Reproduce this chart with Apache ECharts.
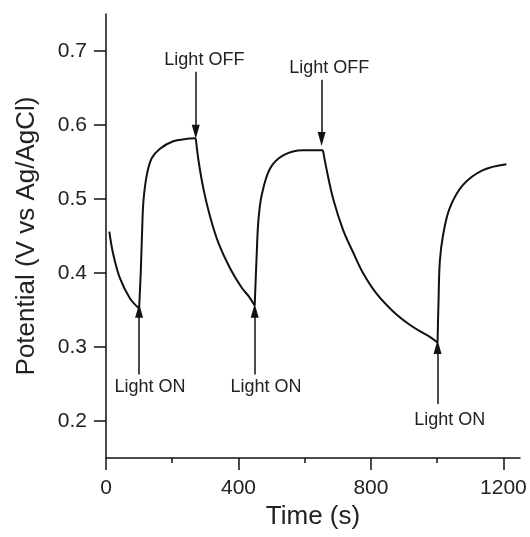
<!DOCTYPE html>
<html>
<head>
<meta charset="utf-8">
<script src="https://cdn.jsdelivr.net/npm/echarts@6/dist/echarts.min.js"></script>
<style>
  html, body { margin: 0; padding: 0; background: #fff; }
  #chart { width: 530px; height: 537px; }
</style>
</head>
<body>
<div id="chart"></div>
<script>
// time (s) and potential (V vs Ag/AgCl)
const timeS = [10, 22, 42, 72, 100, 105, 109, 113, 123, 138, 163, 203, 240, 271,
  280, 295, 315, 340, 375, 410, 430, 449, 455, 460, 470, 495, 535, 595, 655,
  666, 686, 716, 746, 776, 817, 867, 917, 957, 980, 1001, 1004, 1008, 1018, 1038, 1078, 1138, 1209]
const potential = [0.456, 0.425, 0.393, 0.366, 0.352, 0.402, 0.456, 0.497, 0.532, 0.555, 0.568, 0.578, 0.581, 0.582,
  0.550, 0.512, 0.475, 0.440, 0.406, 0.380, 0.369, 0.356, 0.425, 0.470, 0.505, 0.541, 0.559, 0.566, 0.566,
  0.540, 0.500, 0.458, 0.428, 0.400, 0.372, 0.348, 0.330, 0.319, 0.313, 0.306, 0.362, 0.416, 0.452, 0.488, 0.519, 0.539, 0.547]
// indices where light is switched (sharp corners in the trace)
const switchIdx = [4, 13, 21, 28, 39]

const yTicks = [0.2, 0.3, 0.4, 0.5, 0.6, 0.7]
const xTicks = [0, 400, 800, 1200]
const xMinorTicks = [200, 600, 1000]

// arrows: [time, tail potential, tip potential]
const arrows = [
  [271, 0.672, 0.591],
  [651, 0.661, 0.581],
  [100, 0.263, 0.349],
  [449, 0.263, 0.349],
  [1001, 0.223, 0.300]
]
// annotation texts: [label, time, potential]
const notes = [
  ['Light OFF', 297, 0.688],
  ['Light OFF', 674, 0.677],
  ['Light ON', 133, 0.246],
  ['Light ON', 483, 0.246],
  ['Light ON', 1038, 0.201]
]

const INK = '#111'
const TEXT = '#222'
const FONT = '"Liberation Sans", Arial, sans-serif'

const points = timeS.map((t, i) => [t, potential[i]])
const cuts = [0, ...switchIdx, points.length - 1]

// one smoothed piece per light period, so the switch points stay sharp
const pieces = []
for (let k = 0; k < cuts.length - 1; k++) {
  pieces.push({
    type: 'line',
    data: points.slice(cuts[k], cuts[k + 1] + 1),
    showSymbol: false,
    smooth: 0.35,
    lineStyle: { color: INK, width: 2 },
    silent: true
  })
}

pieces[0].markLine = {
  silent: true,
  symbol: ['none', 'triangle'],
  symbolSize: [8, 14],
  lineStyle: { color: INK, width: 1.5, type: 'solid' },
  label: { show: false },
  data: arrows.map((a) => [{ coord: [a[0], a[1]] }, { coord: [a[0], a[2]] }])
}
pieces[0].markPoint = {
  silent: true,
  symbol: 'circle',
  symbolSize: 0,
  label: {
    show: true,
    position: 'inside',
    formatter: '{b}',
    color: TEXT,
    fontSize: 18,
    fontFamily: FONT
  },
  data: notes.map((n) => ({ name: n[0], coord: [n[1], n[2]] }))
}

const chart = echarts.init(document.getElementById('chart'))

chart.setOption({
  animation: false,
  backgroundColor: '#fff',
  grid: { left: 106, right: 10, top: 14, bottom: 79 },
  xAxis: [
    {
      type: 'value',
      min: 0,
      max: 1250,
      name: 'Time (s)',
      nameLocation: 'middle',
      nameGap: 37,
      nameTextStyle: { color: TEXT, fontSize: 26, fontFamily: FONT },
      axisLine: { lineStyle: { color: INK, width: 1.5 } },
      axisTick: { customValues: xTicks, length: 12, lineStyle: { color: INK, width: 1.5 } },
      axisLabel: {
        customValues: xTicks,
        margin: 20,
        color: TEXT,
        fontSize: 21,
        fontFamily: FONT,
        formatter: (v) => String(v)
      },
      splitLine: { show: false }
    },
    {
      type: 'value',
      min: 0,
      max: 1250,
      position: 'bottom',
      axisLine: { show: false },
      axisTick: { customValues: xMinorTicks, length: 5, lineStyle: { color: INK, width: 1.5 } },
      axisLabel: { show: false },
      splitLine: { show: false }
    }
  ],
  yAxis: {
    type: 'value',
    min: 0.15,
    max: 0.75,
    name: 'Potential (V vs Ag/AgCl)',
    nameLocation: 'middle',
    nameGap: 66,
    nameTextStyle: { color: TEXT, fontSize: 26, fontFamily: FONT },
    axisLine: { show: true, lineStyle: { color: INK, width: 1.5 } },
    axisTick: { show: true, customValues: yTicks, length: 12, lineStyle: { color: INK, width: 1.5 } },
    axisLabel: {
      customValues: yTicks,
      margin: 19,
      color: TEXT,
      fontSize: 21,
      fontFamily: FONT,
      formatter: (v) => v.toFixed(1)
    },
    splitLine: { show: false }
  },
  series: pieces
})
</script>
</body>
</html>
